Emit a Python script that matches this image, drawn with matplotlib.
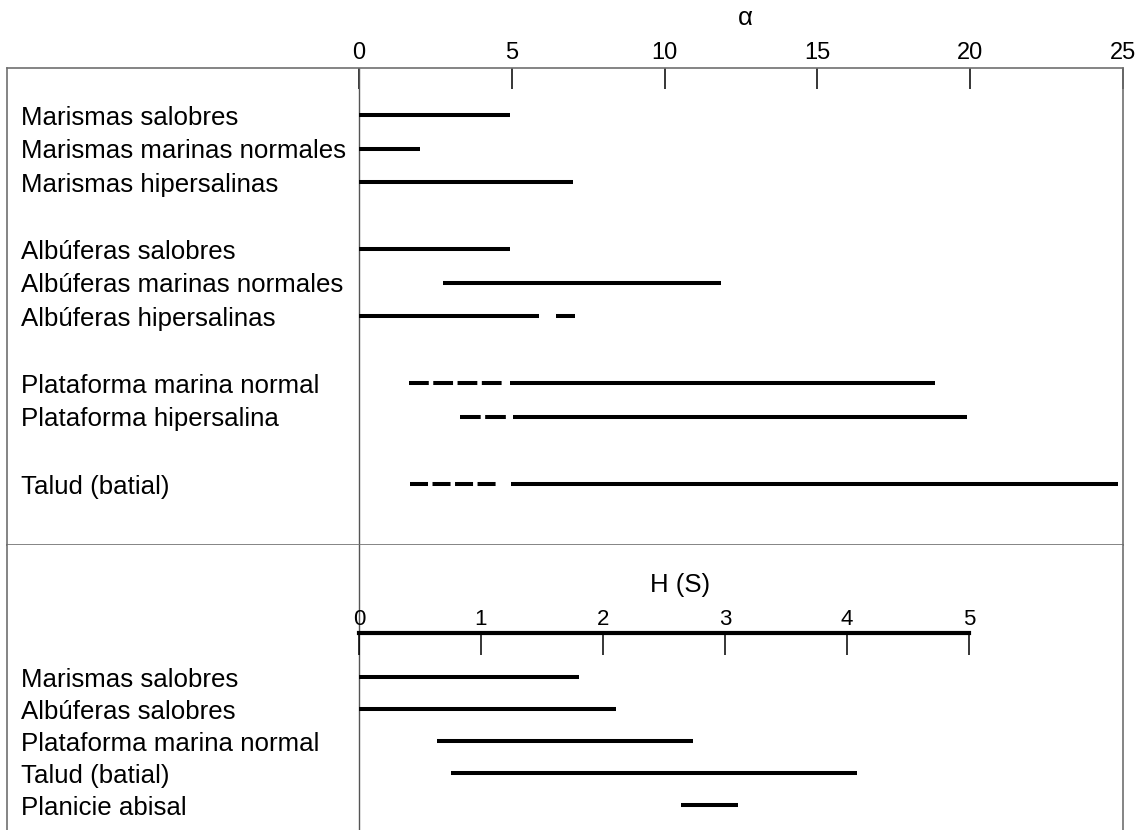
import matplotlib
matplotlib.use("Agg")
import matplotlib.pyplot as plt

plt.rcParams["font.family"] = ["Liberation Sans", "DejaVu Sans"]
plt.rcParams["lines.scale_dashes"] = False

# --- datos ---------------------------------------------------------------
alpha_labels = [
    "Marismas salobres",
    "Marismas marinas normales",
    "Marismas hipersalinas",
    "Albúferas salobres",
    "Albúferas marinas normales",
    "Albúferas hipersalinas",
    "Plataforma marina normal",
    "Plataforma hipersalina",
    "Talud (batial)",
]
alpha_groups = [3, 3, 2, 1]
alpha_solid = [
    [(0, 4.95)],
    [(0, 2.0)],
    [(0, 7.0)],
    [(0, 4.95)],
    [(2.75, 11.85)],
    [(0, 5.9)],
    [(4.93, 18.85)],
    [(5.04, 19.9)],
    [(4.97, 24.83)],
]
alpha_dashed = [
    [], [], [], [], [],
    [(6.45, 7.08)],
    [(1.64, 4.67)],
    [(3.30, 4.80)],
    [(1.67, 4.47)],
]
alpha_ticks = [0, 5, 10, 15, 20, 25]

h_labels = [
    "Marismas salobres",
    "Albúferas salobres",
    "Plataforma marina normal",
    "Talud (batial)",
    "Planicie abisal",
]
h_ranges = [(0, 1.80), (0, 2.11), (0.64, 2.74), (0.75, 4.08), (2.64, 3.11)]
h_ticks = [0, 1, 2, 3, 4, 5]

# --- figura --------------------------------------------------------------
W, H = 1141, 830
fig = plt.figure(figsize=(W / 100, H / 100), dpi=100)

FRAME = "#707070"
LW = 2.9
LABEL_FS = 18.6
GAP_PX = 4.5
DASH_PX = 20.0


def rows(groups):
    pos, y = [], 0
    for g in groups:
        for _ in range(g):
            pos.append(y)
            y += 1
        y += 1
    return pos


def dash_style(length_px):
    # reparte guiones enteros en el tramo
    n = max(1, round((length_px + GAP_PX) / (DASH_PX + GAP_PX)))
    d = (length_px - (n - 1) * GAP_PX) / n
    return (0, (d * 0.72, GAP_PX * 0.72))


left_px, right_px = 7, 1123
zero_px = 359
ppu = (right_px - zero_px) / 25.0
xmin = -(zero_px - left_px) / ppu

# panel superior (alfa)
ax_top = fig.add_axes([left_px / W, (H - 545) / H, (right_px - left_px) / W, (545 - 68) / H])
row_h = 33.55
ax_top.set_xlim(xmin, 25)
ax_top.set_ylim((545 - 115) / row_h, (68 - 115) / row_h)
for s in ax_top.spines.values():
    s.set_color(FRAME)
    s.set_linewidth(1.2)
ax_top.axvline(0, color="#555555", lw=1.0)
ax_top.xaxis.tick_top()
ax_top.set_xticks(alpha_ticks)
ax_top.set_yticks([])
ax_top.tick_params(axis="x", direction="in", length=15, width=1.1, color="black",
                   labelsize=17, pad=3)

ypos = rows(alpha_groups)
lab_x = (21 - left_px) / (right_px - left_px)
for y, lab, solid, dashed in zip(ypos, alpha_labels, alpha_solid, alpha_dashed):
    ax_top.text(lab_x, y, lab, transform=ax_top.get_yaxis_transform(),
                ha="left", va="center_baseline", fontsize=LABEL_FS)
    for a, b in solid:
        ax_top.plot([a, b], [y, y], color="black", lw=LW, solid_capstyle="butt")
    for a, b in dashed:
        ax_top.plot([a, b], [y, y], color="black", lw=LW,
                    linestyle=dash_style((b - a) * ppu), dash_capstyle="butt")
ax_top.text(12.65, (18 - 115) / row_h, "α", ha="center", va="center", fontsize=18.5)

# marco inferior
ax_low = fig.add_axes([left_px / W, -0.05, (right_px - left_px) / W, (H - 545) / H + 0.05])
ax_low.set_xlim(xmin, 25)
ax_low.set_xticks([])
ax_low.set_yticks([])
ax_low.spines["top"].set_visible(False)
ax_low.spines["bottom"].set_visible(False)
for s in ("left", "right"):
    ax_low.spines[s].set_color(FRAME)
    ax_low.spines[s].set_linewidth(1.2)
ax_low.axvline(0, color="#555555", lw=1.0)

# panel inferior (H(S))
h_zero, h_five = 359, 969
ax_h = fig.add_axes([h_zero / W, 0, (h_five - h_zero) / W, (H - 633) / H])
ax_h.patch.set_alpha(0)
hr = 32.0
ax_h.set_xlim(0, 5)
ax_h.set_ylim((H - 677) / hr, (633 - 677) / hr)
for s in ("left", "right", "bottom"):
    ax_h.spines[s].set_visible(False)
ax_h.spines["top"].set_linewidth(3.0)
ax_h.spines["top"].set_color("black")
ax_h.xaxis.tick_top()
ax_h.set_xticks(h_ticks)
ax_h.set_yticks([])
ax_h.tick_params(axis="x", direction="in", length=15.5, width=1.1, color="black",
                 labelsize=16, pad=2.5)

hlab_x = (21 - h_zero) / (h_five - h_zero) * 5
for i, (lab, (a, b)) in enumerate(zip(h_labels, h_ranges)):
    ax_h.text(hlab_x, i, lab, ha="left", va="center_baseline", fontsize=LABEL_FS,
              clip_on=False)
    ax_h.plot([a, b], [i, i], color="black", lw=LW, solid_capstyle="butt", clip_on=False)
ax_h.text(2.63, (585 - 677) / hr, "H (S)", ha="center", va="center", fontsize=18.5)

fig.savefig("out.png", dpi=100)
